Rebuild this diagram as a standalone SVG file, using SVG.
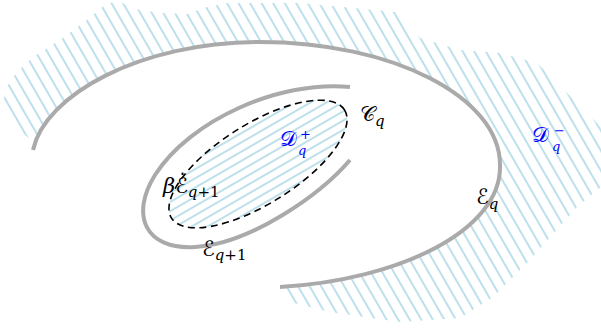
<svg xmlns="http://www.w3.org/2000/svg" width="601" height="331" viewBox="0 0 601 331">
<style>
.curve{fill:none;stroke:#aaaaaa;stroke-width:4;stroke-linecap:butt}
.dash{fill:none;stroke:#000;stroke-width:1.6;stroke-dasharray:7 4.5}
.m{font-family:"DejaVu Serif","DejaVu Sans",serif;font-size:21px;fill:#000}
.s{font-family:"DejaVu Serif",serif;font-size:15px;font-style:italic}
.t{font-family:"DejaVu Serif",serif;font-size:13px;font-style:italic}
.n{font-family:"DejaVu Serif",serif;font-size:15px;font-style:normal}
.i{font-style:italic}
.blue{fill:#0000ff}
</style>
<defs>
<pattern id="hOut" patternUnits="userSpaceOnUse" width="10" height="10" patternTransform="rotate(-30)">
<line x1="5" y1="-1" x2="5" y2="11" stroke="#add8e6" stroke-width="1.6"/>
</pattern>
<pattern id="hIn" patternUnits="userSpaceOnUse" width="10" height="8" patternTransform="rotate(-30)">
<line x1="-1" y1="4" x2="11" y2="4" stroke="#add8e6" stroke-width="1.6"/>
</pattern>
<mask id="outside">
<rect x="0" y="0" width="601" height="331" fill="#fff"/>
<path d="M33,150 C45,95 140,42 260,42 C392,42 500,97 500,165 C502,230 400,280 280,287 Z" fill="#000"/>
</mask>
<clipPath id="inEll">
<ellipse cx="258" cy="164" rx="102" ry="40" transform="rotate(-32 258 164)"/>
</clipPath>
</defs>
<g id="Dminus-region">
<path d="M25,135 L8,118 L3,104 L6,88 L17,72 L33,57 L60,40 L87,20 L107,3 L120,2 L135,9 L160,13 L187,14 L207,7 L227,3 L300,3 L395,12 L420,38 L460,50 L500,53 L537,63 L567,93 L601,127 L601,187 L577,207 L527,263 L493,297 L460,318 L400,322 L330,312 L290,302 L282,290 L270,200 L100,150 L40,147 Z" fill="url(#hOut)" mask="url(#outside)"/>
</g>
<g id="Dplus-region">
<rect x="140" y="90" width="220" height="150" fill="url(#hIn)" clip-path="url(#inEll)"/>
</g>
<g id="Eq">
<path class="curve" d="M33,150 C45,95 140,42 260,42 C392,42 500,97 500,165 C502,230 400,280 280,287"/>
<text class="m" x="476" y="204">ℰ<tspan class="s" dy="5">q</tspan></text>
</g>
<g id="Eq1">
<path class="curve" d="M350,87 C280,80 190,120 155,175 C130,215 145,250 195,247 C250,244 320,195 350,160"/>
<text class="m" x="202" y="256">ℰ<tspan class="s" dy="4">q</tspan><tspan class="n">+1</tspan></text>
</g>
<g id="betaEq1">
<ellipse class="dash" cx="258" cy="164" rx="102" ry="40" transform="rotate(-32 258 164)"/>
<text class="m" x="163" y="193"><tspan class="i">β</tspan>ℰ̇<tspan class="s" dy="4">q</tspan><tspan class="n">+1</tspan></text>
</g>
<g id="Cq">
<text class="m" x="360" y="121">𝒞<tspan class="s" dy="5">q</tspan></text>
</g>
<g id="Dplus">
<text class="m blue" x="280" y="146">𝒟</text>
<text class="t blue" x="300" y="139">+</text>
<text class="t blue" x="298" y="155">q</text>
</g>
<g id="Dminus">
<text class="m blue" x="532" y="142">𝒟</text>
<text class="t blue" x="554" y="135">−</text>
<text class="t blue" x="552" y="151">q</text>
</g>
</svg>
